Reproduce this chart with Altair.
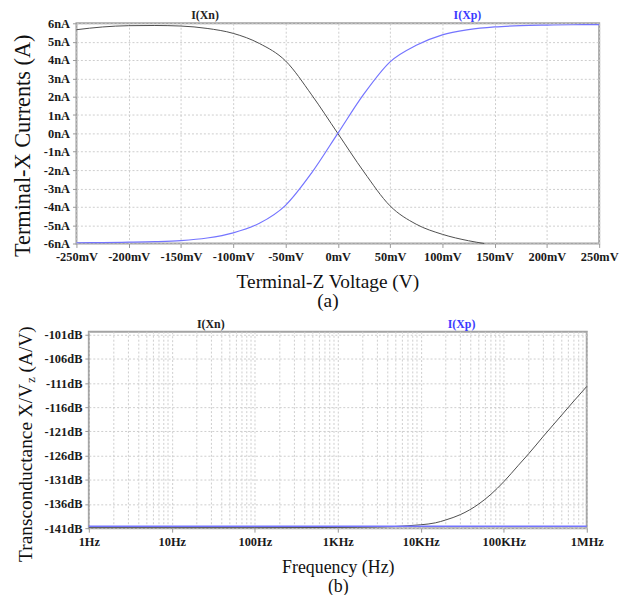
import altair as alt
import pandas as pd

# ---------------- (a) DC sweep: Terminal-X currents vs Terminal-Z voltage
vz_n_mv = [-250, -225, -200, -175, -150, -125, -100, -75, -50, -25, 0, 25, 50, 75, 100, 125, 140]
i_xn_na = [5.65, 5.80, 5.87, 5.88, 5.85, 5.72, 5.45, 4.90, 3.95, 2.10, 0.0, -2.10, -3.95, -4.95, -5.50, -5.85, -6.0]
vz_p_mv = [-250, -225, -200, -175, -150, -125, -100, -75, -50, -25, 0, 25, 50, 75, 100, 125, 150, 175, 200, 225, 250]
i_xp_na = [-5.96, -5.95, -5.93, -5.90, -5.84, -5.70, -5.42, -4.90, -3.92, -2.15, 0.0, 2.15, 3.90, 4.80, 5.37, 5.65, 5.80, 5.87, 5.90, 5.92, 5.93]
v_ticks = [-250, -200, -150, -100, -50, 0, 50, 100, 150, 200, 250]
i_ticks = [-6, -5, -4, -3, -2, -1, 0, 1, 2, 3, 4, 5, 6]
trace_names = ["I(Xn)", "I(Xp)"]
trace_label_mv = [-127, 124]

# ---------------- (b) AC sweep: transconductance vs frequency
freq_n_hz = [1, 10, 100, 1000, 3000, 5000, 7000, 10000, 15000, 20000, 30000, 50000, 70000,
             100000, 150000, 200000, 300000, 500000, 700000, 1000000]
gm_xn_db = [-140.9, -140.9, -140.9, -140.85, -140.75, -140.65, -140.5, -140.3, -139.9, -139.3, -138.2,
            -136.0, -134.0, -131.4, -128.0, -125.6, -122.0, -117.6, -114.7, -111.7]
freq_p_hz = [1, 1000000]
gm_xp_db = [-140.6, -140.6]
f_ticks = [1, 10, 100, 1000, 10000, 100000, 1000000]
f_labels = ["1Hz", "10Hz", "100Hz", "1KHz", "10KHz", "100KHz", "1MHz"]
f_minor = [m * 10 ** k for k in range(6) for m in range(2, 10)]
db_ticks = [-141, -136, -131, -126, -121, -116, -111, -106, -101]
trace_label_hz = [29.5, 31000]

SERIF = "Liberation Serif"
BLACK_TRACE = "#4d4d4d"
BLUE_TRACE = "#7474ff"
BLUE_TEXT = "#3b3bff"
GRID = "#cdcdcd"

# ---------------- panel (a)
da_n = pd.DataFrame({"v": vz_n_mv, "i": i_xn_na})
da_p = pd.DataFrame({"v": vz_p_mv, "i": i_xp_na})
da_lab = pd.DataFrame({"v": trace_label_mv, "name": trace_names})

xa = alt.X("v:Q", scale=alt.Scale(domain=[-250, 250], nice=False),
           axis=alt.Axis(values=v_ticks, tickCount=30, labelExpr="datum.value + 'mV'", labelOverlap=False,
                         title=["Terminal-Z Voltage (V)", "(a)"], titleFontSize=19.5,
                         titleLineHeight=20, titleY=29, titleBaseline="top", titleX=253))
ya = alt.Y("i:Q", scale=alt.Scale(domain=[-6, 6], nice=False),
           axis=alt.Axis(values=i_ticks, tickCount=30, labelExpr="datum.value + 'nA'", labelOverlap=False,
                         title="Terminal-X Currents (A)", titleFontSize=22.5,
                         titleX=-54.5, titleY=123, titleBaseline="middle", titleAngle=270))

a_n = alt.Chart(da_n).mark_line(color=BLACK_TRACE, strokeWidth=1, interpolate="monotone").encode(x=xa, y=ya)
a_p = alt.Chart(da_p).mark_line(color=BLUE_TRACE, strokeWidth=1.2, interpolate="monotone").encode(
    x="v:Q", y="i:Q")
a_lab = alt.Chart(da_lab).mark_text(font=SERIF, fontWeight="bold", fontSize=12,
                                    baseline="alphabetic", align="center").encode(
    x="v:Q", y=alt.value(-4),
    text="name:N",
    color=alt.Color("name:N", scale=alt.Scale(domain=trace_names, range=["#222222", BLUE_TEXT]), legend=None))
panel_a = alt.layer(a_n, a_p, a_lab).properties(width=527, height=222)

# ---------------- panel (b)
db_n = pd.DataFrame({"f": freq_n_hz, "g": gm_xn_db})
db_p = pd.DataFrame({"f": freq_p_hz, "g": gm_xp_db})
db_minor = pd.DataFrame({"f": f_minor})
db_lab = pd.DataFrame({"f": trace_label_hz, "name": trace_names})

f_expr = "''"
for v, lab in reversed(list(zip(f_ticks, f_labels))):
    f_expr = f"datum.value == {v} ? '{lab}' : ({f_expr})"

xscale_b = alt.Scale(type="log", domain=[1, 1000000], nice=False)
xb = alt.X("f:Q", scale=xscale_b,
           axis=alt.Axis(values=f_ticks, tickCount=30, labelExpr=f_expr, labelOverlap=False,
                         title=["Frequency (Hz)", "(b)"], titleFontSize=18,
                         titleLineHeight=19, titleY=31, titleBaseline="top"))
yb = alt.Y("g:Q", scale=alt.Scale(domain=[-141, -100.4], nice=False, zero=False),
           axis=alt.Axis(values=db_ticks, tickCount=30, labelExpr="datum.value + 'dB'",
                         labelOverlap=False, title=None))

b_minor = alt.Chart(db_minor).mark_rule(color=GRID, strokeDash=[2, 2], strokeWidth=1).encode(x=xb)
b_n = alt.Chart(db_n).mark_line(color=BLACK_TRACE, strokeWidth=1, interpolate="monotone").encode(
    x="f:Q", y=yb)
b_p = alt.Chart(db_p).mark_line(color=BLUE_TRACE, strokeWidth=1.4).encode(x="f:Q", y="g:Q")
b_lab = alt.Chart(db_lab).mark_text(font=SERIF, fontWeight="bold", fontSize=12,
                                    baseline="alphabetic", align="center").encode(
    x="f:Q", y=alt.value(-4),
    text="name:N",
    color=alt.Color("name:N", scale=alt.Scale(domain=trace_names, range=["#222222", BLUE_TEXT]), legend=None))

# y-axis title with subscript z, written as three text pieces reading upward
ytitle_parts = ["Transconductance X/V", "z", "(A/V)"]
t1 = alt.Chart(pd.DataFrame({"t": [ytitle_parts[0]]})).mark_text(
    font=SERIF, fontSize=19.5, angle=270, align="left", baseline="middle", color="#111111").encode(
    text="t:N", x=alt.value(-63), y=alt.value(232))
t2 = alt.Chart(pd.DataFrame({"t": [ytitle_parts[1]]})).mark_text(
    font=SERIF, fontSize=12.5, angle=270, align="left", baseline="middle", color="#111111").encode(
    text="t:N", x=alt.value(-58), y=alt.value(51.5))
t3 = alt.Chart(pd.DataFrame({"t": [ytitle_parts[2]]})).mark_text(
    font=SERIF, fontSize=19.5, angle=270, align="left", baseline="middle", color="#111111").encode(
    text="t:N", x=alt.value(-63), y=alt.value(41))

panel_b = alt.layer(b_minor, b_n, b_p, b_lab, t1, t2, t3).properties(width=502, height=198)

chart = alt.vconcat(panel_a, panel_b, spacing=89, bounds="flush", center=True).properties(
    padding={"left": 2, "top": -2, "right": 0, "bottom": 0}
).configure_axis(
    labelFont=SERIF, labelFontWeight="bold", labelFontSize=12.5, labelColor="#1a1a1a",
    labelPadding=3, labelOverlap=False, labelFlush=False, labelBound=False,
    tickColor="#999999", tickSize=4, tickWidth=1,
    grid=True, gridColor=GRID, gridDash=[2, 2], gridWidth=1, domain=False,
    titleFont=SERIF, titleFontWeight="normal", titleColor="#111111"
).configure_view(stroke="#a3a3a3", strokeWidth=2)

chart.save("out.html", embed_options={"renderer": "svg", "actions": False})
